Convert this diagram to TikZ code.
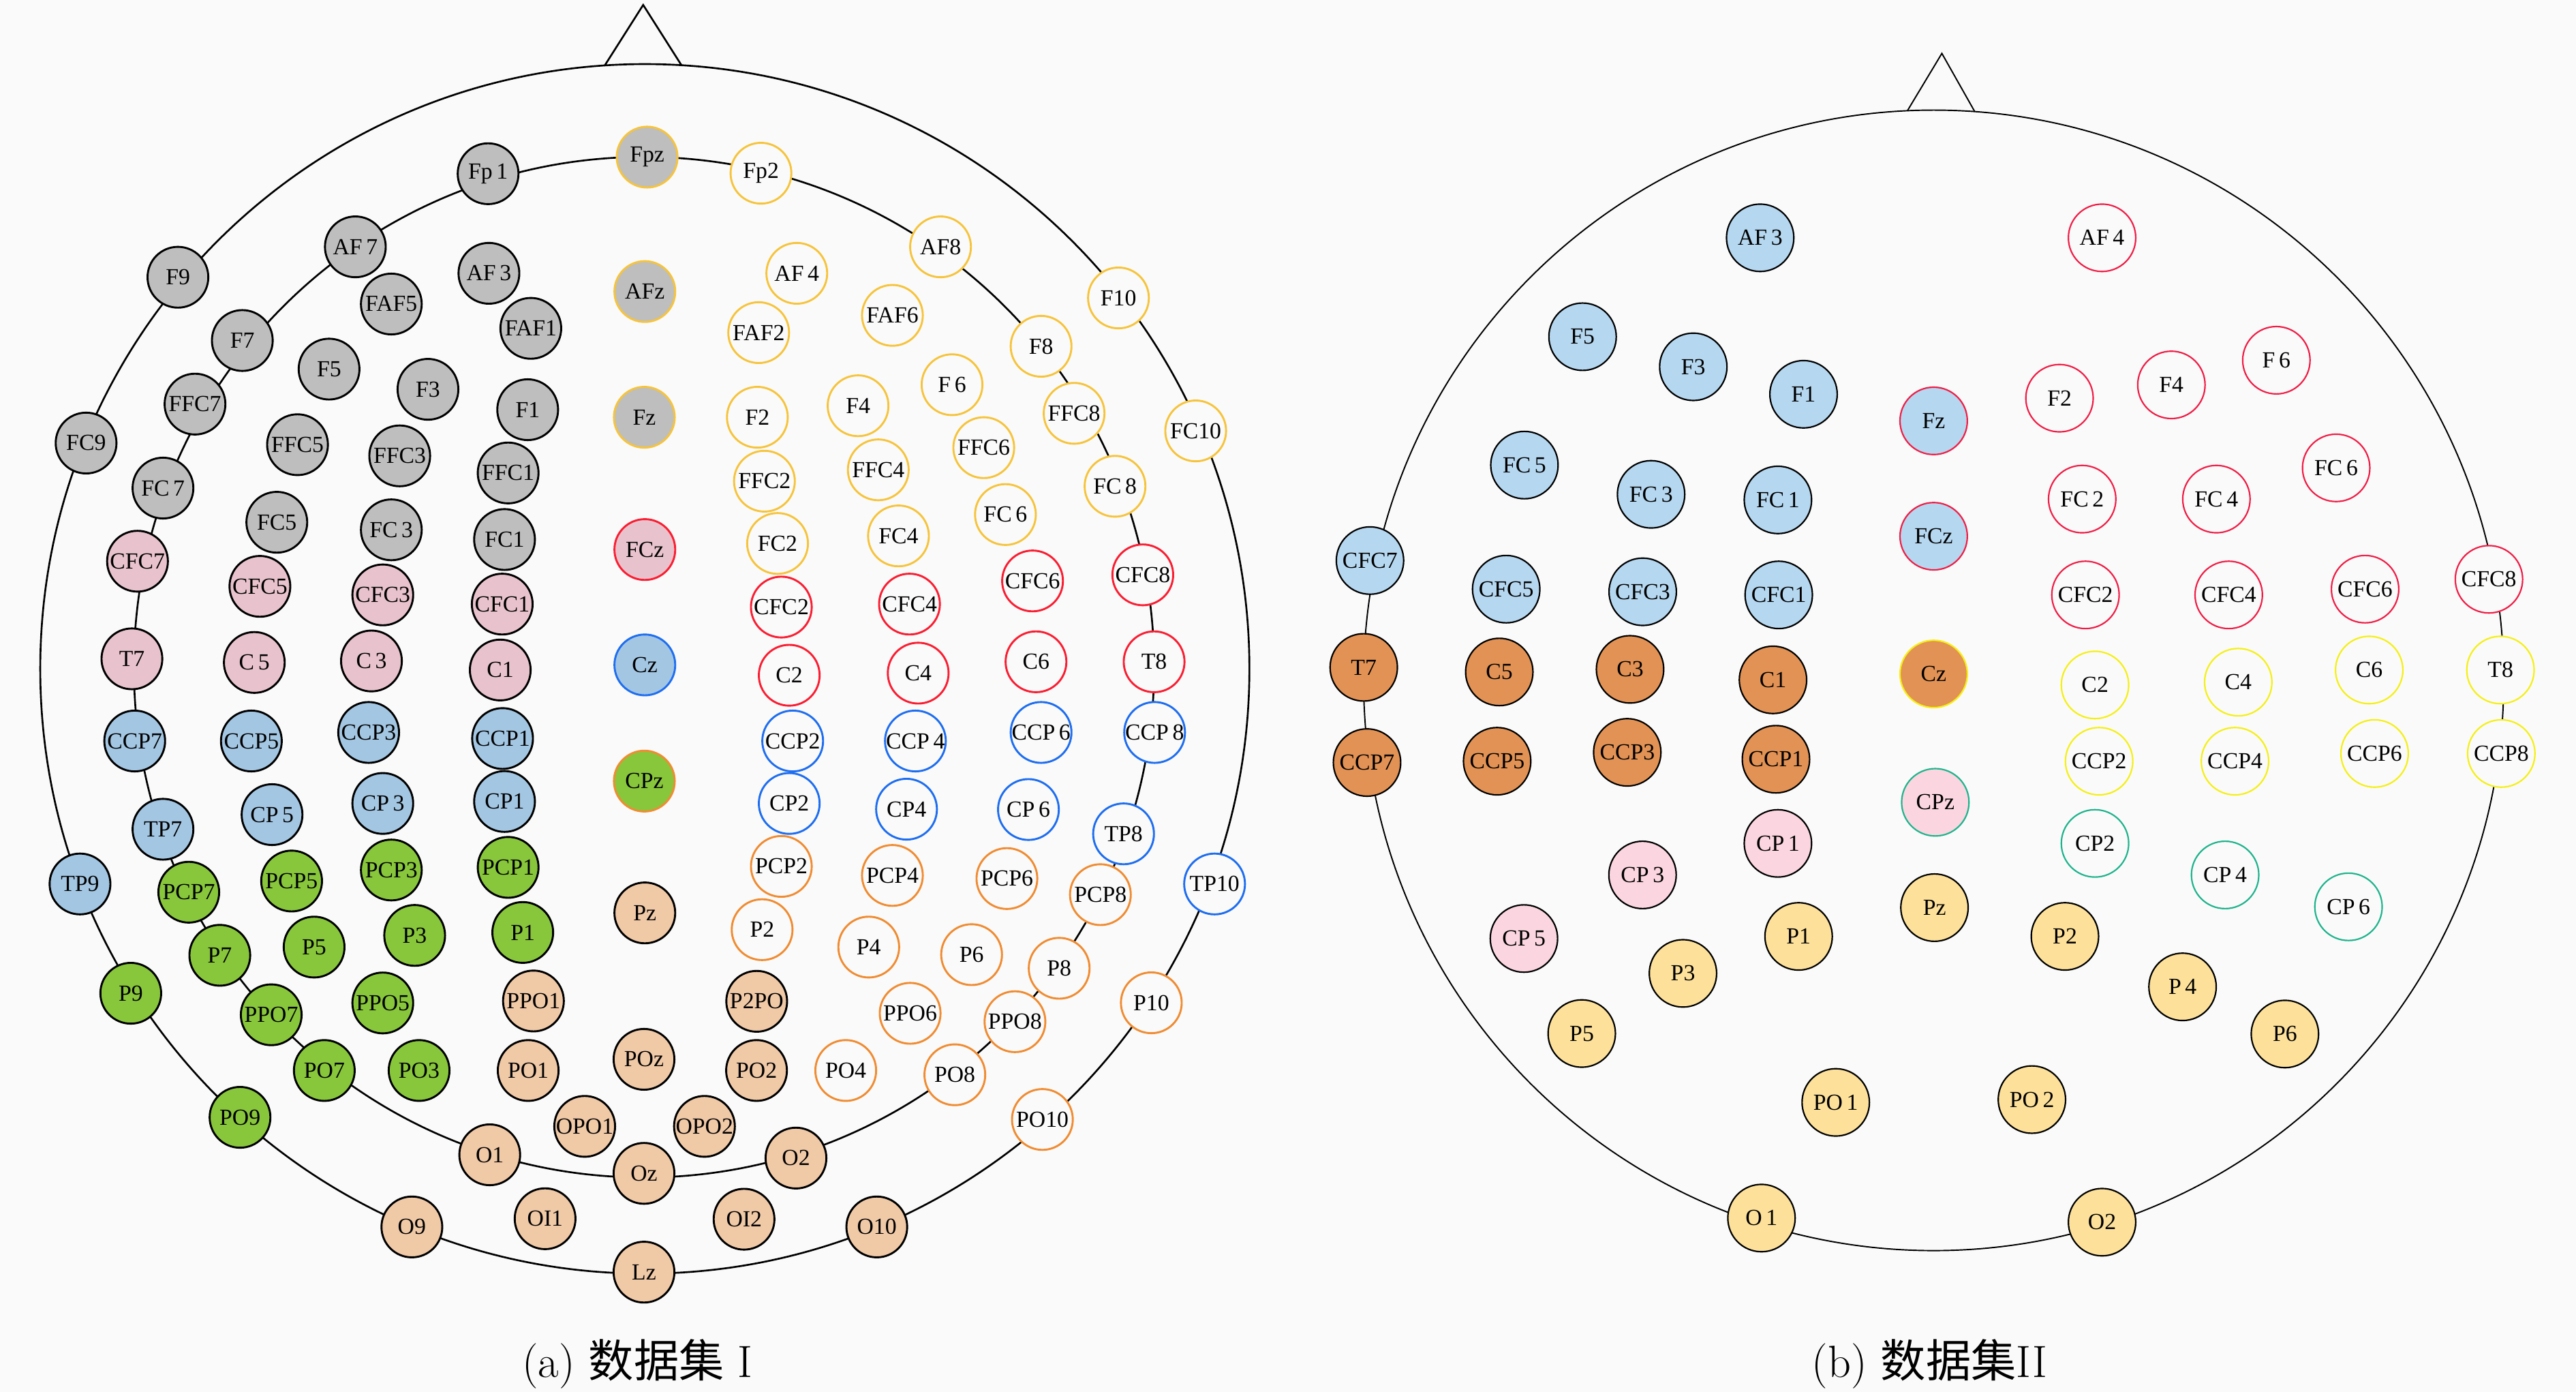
\documentclass[tikz,border=0pt]{standalone}
\usepackage{fontspec}
\newfontfamily\lab{Liberation Serif}
\newfontfamily\cjk{Noto Sans CJK SC}
\definecolor{bg}{RGB}{250,250,250}
\definecolor{agray}{RGB}{190,190,190}
\definecolor{apink}{RGB}{232,195,205}
\definecolor{ablue}{RGB}{163,198,226}
\definecolor{agreen}{RGB}{136,198,60}
\definecolor{apeach}{RGB}{240,201,167}
\definecolor{ayel}{RGB}{246,196,60}
\definecolor{ared}{RGB}{250,30,50}
\definecolor{abl}{RGB}{30,110,240}
\definecolor{aor}{RGB}{240,140,50}
\definecolor{bblue}{RGB}{181,215,240}
\definecolor{borange}{RGB}{226,146,84}
\definecolor{bpink}{RGB}{251,214,224}
\definecolor{byel}{RGB}{253,225,155}
\definecolor{bred}{RGB}{240,30,70}
\definecolor{byb}{RGB}{245,240,20}
\definecolor{bteal}{RGB}{30,180,140}
\tikzset{
  ea/.style={circle, minimum size=37pt, inner sep=0pt, line width=1.2pt, font=\lab\fontsize{14}{14}\selectfont},
  eb/.style={circle, minimum size=41pt, inner sep=0pt, line width=0.9pt, font=\lab\fontsize{14}{14}\selectfont},
  gk/.style={ea, fill=agray, draw=black},
  gy/.style={ea, fill=agray, draw=ayel},
  pk/.style={ea, fill=apink, draw=black},
  pr/.style={ea, fill=apink, draw=ared},
  bk/.style={ea, fill=ablue, draw=black},
  bb/.style={ea, fill=ablue, draw=abl},
  nk/.style={ea, fill=agreen, draw=black},
  gno/.style={ea, fill=agreen, draw=aor},
  ek/.style={ea, fill=apeach, draw=black},
  wy/.style={ea, fill=bg, draw=ayel},
  wr/.style={ea, fill=bg, draw=ared},
  wb/.style={ea, fill=bg, draw=abl},
  wo/.style={ea, fill=bg, draw=aor},
  rb/.style={eb, fill=bblue, draw=black},
  rbr/.style={eb, fill=bblue, draw=bred},
  ro/.style={eb, fill=borange, draw=black},
  roy/.style={eb, fill=borange, draw=byb},
  rp/.style={eb, fill=bpink, draw=black},
  rpt/.style={eb, fill=bpink, draw=bteal},
  ry/.style={eb, fill=byel, draw=black},
  rwr/.style={eb, fill=bg, draw=bred},
  rwy/.style={eb, fill=bg, draw=byb},
  rwt/.style={eb, fill=bg, draw=bteal},
  headA/.style={line width=1.1pt, draw=black},
  headB/.style={line width=0.8pt, draw=black},
  captext/.style={font=\fontsize{27.5}{27.5}\selectfont, inner sep=0pt}
}
\begin{document}
\begin{tikzpicture}[x=1pt,y=-1pt]
\useasboundingbox (0,0) rectangle (1568,847);
\fill[bg] (0,0) rectangle (1568,847);
% ---------- head (a) ----------
\draw[headA] (392.5,407) circle[radius=368];
\draw[headA] (392,406) circle[radius=310.5];
\draw[headA] (368,40) -- (391.5,3) -- (415,40);
% ---------- head (b) ----------
\draw[headB] (1177,414) circle[radius=347];
\draw[headB] (1161,67.4) -- (1182,32.5) -- (1202,67.9);
% ---------- nodes (a) ----------
\node[gk] (aFp1) at (297.1,105.7) {Fp\,1};
\node[gk] (aAF7) at (216.3,150.2) {AF\,7};
\node[gk] (aAF3) at (297.6,166.3) {AF\,3};
\node[gk] (aF9) at (108.3,168.7) {F9};
\node[gk] (aFAF5) at (238.2,185.0) {FAF5};
\node[gk] (aFAF1) at (323.1,199.8) {FAF1};
\node[gk] (aF7) at (147.5,207.2) {F7};
\node[gk] (aF5) at (200.3,224.6) {F5};
\node[gk] (aF3) at (260.5,236.9) {F3};
\node[gk] (aF1) at (321.2,249.3) {F1};
\node[gk] (aFFC7) at (118.7,245.9) {FFC7};
\node[gk] (aFC9) at (52.4,269.6) {FC9};
\node[gk] (aFFC5) at (181.1,270.6) {FFC5};
\node[gk] (aFFC3) at (243.3,277.4) {FFC3};
\node[gk] (aFFC1) at (309.3,287.8) {FFC1};
\node[gk] (aFC7) at (99.2,297.0) {FC\,7};
\node[gk] (aFC5) at (168.5,317.8) {FC5};
\node[gk] (aFC3) at (238.2,322.4) {FC\,3};
\node[gk] (aFC1) at (307.1,328.3) {FC1};
\node[gy] (aFpz) at (393.9,95.6) {Fpz};
\node[gy] (aAFz) at (392.5,177.4) {AFz};
\node[gy] (aFz) at (392.2,253.9) {Fz};
\node[pk] (aCFC7) at (83.7,341.5) {CFC7};
\node[pk] (aCFC5) at (158.2,356.8) {CFC5};
\node[pk] (aCFC3) at (233.0,362.0) {CFC3};
\node[pk] (aCFC1) at (305.7,367.6) {CFC1};
\node[pk] (aT7) at (80.3,400.9) {T7};
\node[pk] (aC5) at (154.8,403.1) {C\,5};
\node[pk] (aC3) at (226.1,402.2) {C\,3};
\node[pk] (aC1) at (304.5,407.7) {C1};
\node[pr] (aFCz) at (392.5,334.4) {FCz};
\node[bk] (aCCP7) at (82.0,450.9) {CCP7};
\node[bk] (aCCP5) at (153.0,450.9) {CCP5};
\node[bk] (aCCP3) at (224.4,445.7) {CCP3};
\node[bk] (aCCP1) at (305.9,449.4) {CCP1};
\node[bk] (aCP5) at (165.6,495.7) {CP\,5};
\node[bk] (aCP3) at (233.0,488.9) {CP\,3};
\node[bk] (aCP1) at (307.1,487.7) {CP1};
\node[bk] (aTP7) at (99.2,504.6) {TP7};
\node[bk] (aTP9) at (48.7,537.9) {TP9};
\node[bb] (aCz) at (392.5,404.6) {Cz};
\node[nk] (aPCP7) at (114.9,542.9) {PCP7};
\node[nk] (aPCP5) at (177.5,536.1) {PCP5};
\node[nk] (aPCP3) at (238.2,529.4) {PCP3};
\node[nk] (aPCP1) at (309.3,527.8) {PCP1};
\node[nk] (aP7) at (133.8,581.3) {P7};
\node[nk] (aP5) at (191.2,576.3) {P5};
\node[nk] (aP3) at (252.4,569.2) {P3};
\node[nk] (aP1) at (318.2,567.4) {P1};
\node[nk] (aP9) at (79.6,604.4) {P9};
\node[nk] (aPPO7) at (165.1,617.5) {PPO7};
\node[nk] (aPPO5) at (233.0,610.3) {PPO5};
\node[nk] (aPO7) at (197.4,651.4) {PO7};
\node[nk] (aPO3) at (255.1,651.4) {PO3};
\node[nk] (aPO9) at (146.1,679.9) {PO9};
\node[gno] (aCPz) at (392.2,475.3) {CPz};
\node[ek] (aPz) at (392.5,555.5) {Pz};
\node[ek] (aPPO1) at (324.7,609.1) {PPO1};
\node[ek] (aP2PO) at (460.6,609.3) {P2PO};
\node[ek] (aPO1) at (321.5,651.4) {PO1};
\node[ek] (aPOz) at (392.0,644.6) {POz};
\node[ek] (aPO2) at (460.5,651.4) {PO2};
\node[ek] (aOPO1) at (355.9,685.4) {OPO1};
\node[ek] (aOPO2) at (428.8,685.4) {OPO2};
\node[ek] (aO1) at (298.1,702.7) {O1};
\node[ek] (aOz) at (392.0,714.0) {Oz};
\node[ek] (aO2) at (484.5,704.7) {O2};
\node[ek] (aO9) at (250.7,746.6) {O9};
\node[ek] (aOI1) at (331.8,741.6) {OI1};
\node[ek] (aOI2) at (452.9,741.9) {OI2};
\node[ek] (aO10) at (533.7,746.6) {O10};
\node[ek] (aLz) at (392.0,774.1) {Lz};
\node[wy] (aFp2) at (463.2,105.4) {Fp2};
\node[wy] (aAF4) at (485.0,166.3) {AF\,4};
\node[wy] (aAF8) at (572.5,150.2) {AF8};
\node[wy] (aFAF2) at (461.8,202.4) {FAF2};
\node[wy] (aFAF6) at (543.2,191.9) {FAF6};
\node[wy] (aF10) at (680.8,181.3) {F10};
\node[wy] (aF2) at (461.0,253.9) {F2};
\node[wy] (aF4) at (522.3,246.9) {F4};
\node[wy] (aF6) at (579.5,234.1) {F\,6};
\node[wy] (aF8) at (633.7,210.7) {F8};
\node[wy] (aFFC2) at (465.3,292.8) {FFC2};
\node[wy] (aFFC4) at (534.6,285.9) {FFC4};
\node[wy] (aFFC6) at (598.8,272.4) {FFC6};
\node[wy] (aFFC8) at (653.8,251.5) {FFC8};
\node[wy] (aFC10) at (727.8,262.2) {FC10};
\node[wy] (aFC2) at (473.3,330.7) {FC2};
\node[wy] (aFC4) at (546.9,326.1) {FC4};
\node[wy] (aFC6) at (612.0,313.1) {FC\,6};
\node[wy] (aFC8) at (678.7,295.9) {FC\,8};
\node[wr] (aCFC2) at (475.6,369.4) {CFC2};
\node[wr] (aCFC4) at (553.6,367.6) {CFC4};
\node[wr] (aCFC6) at (628.5,353.5) {CFC6};
\node[wr] (aCFC8) at (695.6,349.8) {CFC8};
\node[wr] (aC2) at (480.4,410.9) {C2};
\node[wr] (aC4) at (558.9,409.6) {C4};
\node[wr] (aC6) at (630.6,402.7) {C6};
\node[wr] (aT8) at (702.5,402.7) {T8};
\node[wb] (aCCP2) at (482.5,450.9) {CCP2};
\node[wb] (aCCP4) at (557.2,450.9) {CCP\,4};
\node[wb] (aCCP6) at (633.7,445.7) {CCP\,6};
\node[wb] (aCCP8) at (702.8,445.7) {CCP\,8};
\node[wb] (aCP2) at (480.4,488.9) {CP2};
\node[wb] (aCP4) at (551.8,492.4) {CP4};
\node[wb] (aCP6) at (626.0,492.6) {CP\,6};
\node[wb] (aTP8) at (683.9,507.4) {TP8};
\node[wb] (aTP10) at (739.3,537.9) {TP10};
\node[wo] (aPCP2) at (475.6,527.2) {PCP2};
\node[wo] (aPCP4) at (543.2,532.7) {PCP4};
\node[wo] (aPCP6) at (612.9,534.6) {PCP6};
\node[wo] (aPCP8) at (669.8,544.4) {PCP8};
\node[wo] (aP2) at (463.9,565.7) {P2};
\node[wo] (aP4) at (528.8,576.3) {P4};
\node[wo] (aP6) at (591.4,580.9) {P6};
\node[wo] (aP8) at (644.7,589.2) {P8};
\node[wo] (aP10) at (700.8,610.2) {P10};
\node[wo] (aPPO6) at (554.0,616.6) {PPO6};
\node[wo] (aPPO8) at (617.8,621.7) {PPO8};
\node[wo] (aPO4) at (514.8,651.4) {PO4};
\node[wo] (aPO8) at (581.2,654.0) {PO8};
\node[wo] (aPO10) at (634.5,681.2) {PO10};
% ---------- nodes (b) ----------
\node[rb] (bAF3) at (1071.4,144.7) {AF\,3};
\node[rb] (bF5) at (963.3,204.9) {F5};
\node[rb] (bF3) at (1030.7,223.2) {F3};
\node[rb] (bF1) at (1097.8,239.9) {F1};
\node[rb] (bFC5) at (927.9,283.0) {FC\,5};
\node[rb] (bFC3) at (1005.0,300.8) {FC\,3};
\node[rb] (bFC1) at (1082.2,304.2) {FC\,1};
\node[rb] (bCFC7) at (833.9,341.1) {CFC7};
\node[rb] (bCFC5) at (916.8,358.5) {CFC5};
\node[rb] (bCFC3) at (999.9,360.1) {CFC3};
\node[rb] (bCFC1) at (1082.7,362.0) {CFC1};
\node[rbr] (bFz) at (1177,256.1) {Fz};
\node[rbr] (bFCz) at (1177,326.3) {FCz};
\node[ro] (bT7) at (830.1,406.1) {T7};
\node[ro] (bC5) at (912.6,408.9) {C5};
\node[ro] (bC3) at (992.2,407.3) {C3};
\node[ro] (bC1) at (1079.2,413.7) {C1};
\node[ro] (bCCP7) at (832.1,464.0) {CCP7};
\node[ro] (bCCP5) at (911.3,463.2) {CCP5};
\node[ro] (bCCP3) at (990.5,457.8) {CCP3};
\node[ro] (bCCP1) at (1081.0,462.0) {CCP1};
\node[roy] (bCz) at (1177,410.1) {Cz};
\node[rp] (bCP1) at (1082.2,513.2) {CP\,1};
\node[rp] (bCP3) at (999.8,532.4) {CP\,3};
\node[rp] (bCP5) at (927.6,571.1) {CP\,5};
\node[rpt] (bCPz) at (1178,488.2) {CPz};
\node[ry] (bPz) at (1177.5,552.3) {Pz};
\node[ry] (bP1) at (1094.8,569.8) {P1};
\node[ry] (bP3) at (1024.4,592.3) {P3};
\node[ry] (bP5) at (962.8,628.9) {P5};
\node[ry] (bPO1) at (1117.4,670.8) {PO\,1};
\node[ry] (bO1) at (1072.2,741.2) {O\,1};
\node[ry] (bP2) at (1256.9,569.8) {P2};
\node[ry] (bP4) at (1328.5,600.5) {P\,4};
\node[ry] (bP6) at (1390.8,629.2) {P6};
\node[ry] (bPO2) at (1236.8,669.1) {PO\,2};
\node[ry] (bO2) at (1279.5,743.7) {O2};
\node[rwr] (bAF4) at (1279.5,144.7) {AF\,4};
\node[rwr] (bF6) at (1385.6,219.2) {F\,6};
\node[rwr] (bF4) at (1321.7,234.2) {F4};
\node[rwr] (bF2) at (1253.6,242.3) {F2};
\node[rwr] (bFC6) at (1422.0,284.7) {FC\,6};
\node[rwr] (bFC2) at (1267.4,303.7) {FC\,2};
\node[rwr] (bFC4) at (1349.1,303.7) {FC\,4};
\node[rwr] (bCFC8) at (1515.0,352.5) {CFC8};
\node[rwr] (bCFC6) at (1439.6,358.5) {CFC6};
\node[rwr] (bCFC2) at (1269.4,362.0) {CFC2};
\node[rwr] (bCFC4) at (1356.6,362.0) {CFC4};
\node[rwy] (bC6) at (1442.1,407.7) {C6};
\node[rwy] (bT8) at (1522.0,407.7) {T8};
\node[rwy] (bC2) at (1275.2,416.8) {C2};
\node[rwy] (bC4) at (1362.4,415.1) {C4};
\node[rwy] (bCCP6) at (1445.4,458.5) {CCP6};
\node[rwy] (bCCP8) at (1522.5,458.5) {CCP8};
\node[rwy] (bCCP2) at (1277.7,463.2) {CCP2};
\node[rwy] (bCCP4) at (1360.4,463.2) {CCP4};
\node[rwt] (bCP2) at (1275.2,513.2) {CP2};
\node[rwt] (bCP4) at (1354.4,532.4) {CP\,4};
\node[rwt] (bCP6) at (1429.5,551.8) {CP\,6};
% ---------- captions ----------
\node[captext] (capa) at (388,830) {(a) {\cjk 数据集} I};
\node[captext] (capb) at (1174.5,830) {(b) {\cjk 数据集}II};
\end{tikzpicture}
\end{document}
